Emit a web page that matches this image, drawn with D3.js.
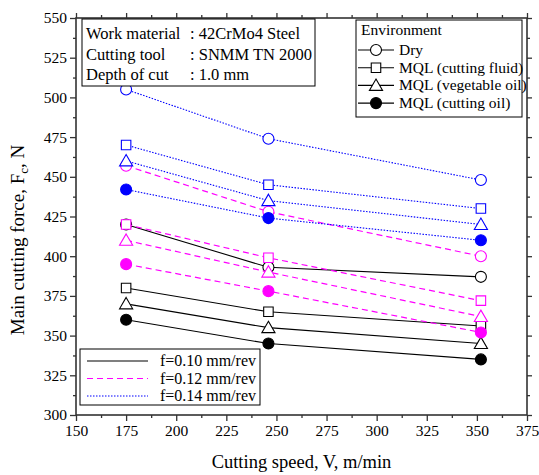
<!DOCTYPE html>
<html>
<head>
<meta charset="utf-8">
<script src="https://cdn.jsdelivr.net/npm/d3@7"></script>
<style>
  body { margin: 0; background: #fff; }
</style>
</head>
<body>
<div id="chart"></div>
<script>
// cutting speeds, m/min
const speeds = [175, 246, 352];

// environments (marker shapes)
const environments = ["Dry", "MQL (cutting fluid)", "MQL (vegetable oil)", "MQL (cutting oil)"];

// feed rates (line styles)
const feeds = ["f=0.10 mm/rev", "f=0.12 mm/rev", "f=0.14 mm/rev"];

// main cutting force, N  -- [environment][speed]
const force010 = [
    [420, 393, 387],
    [380, 365, 356],
    [370, 355, 345],
    [360, 345, 335]
];
const force012 = [
    [457, 428, 400],
    [420, 399, 372],
    [410, 390, 362],
    [395, 378, 352]
];
const force014 = [
    [505, 474, 448],
    [470, 445, 430],
    [460, 435, 420],
    [442, 424, 410]
];

const infoLabels = ["Work material", "Cutting tool", "Depth of cut"];
const infoValues = [": 42CrMo4 Steel", ": SNMM TN 2000", ": 1.0 mm"];

const xTicks = d3.range(150, 376, 25);
const yTicks = d3.range(300, 551, 25);

const width = 539, height = 475;
const mLeft = 76, mRight = 527, mTop = 18, mBottom = 415;
const serif = "'Liberation Serif', 'Times New Roman', Times, serif";

const svg = d3.select("#chart")
    .append("svg")
    .attr("width", width)
    .attr("height", height)
    .attr("font-family", serif);

const x = d3.scaleLinear().domain([150, 375]).range([mLeft, mRight]);
const y = d3.scaleLinear().domain([300, 550]).range([mBottom, mTop]);

// axes with minor ticks
const axisColor = "#333";
function styleAxis(g) {
    g.attr("font-family", serif).attr("font-size", 15.5);
    g.select(".domain").remove();
    g.selectAll("line").attr("stroke", axisColor).attr("stroke-width", 1.3);
    g.selectAll("text").attr("fill", "#000");
}
const xMinor = d3.range(162.5, 375, 25);
const yMinor = d3.range(312.5, 550, 25);

svg.append("g").attr("transform", `translate(0,${mBottom})`)
    .call(d3.axisBottom(x).tickValues(xTicks).tickSize(6).tickPadding(4))
    .call(styleAxis);
svg.append("g").attr("transform", `translate(0,${mBottom})`)
    .call(d3.axisBottom(x).tickValues(xMinor).tickSize(3).tickFormat(""))
    .call(styleAxis);
svg.append("g").attr("transform", `translate(0,${mTop})`)
    .call(d3.axisTop(x).tickValues(xTicks).tickSize(5).tickFormat(""))
    .call(styleAxis);
svg.append("g").attr("transform", `translate(0,${mTop})`)
    .call(d3.axisTop(x).tickValues(xMinor).tickSize(3).tickFormat(""))
    .call(styleAxis);

svg.append("g").attr("transform", `translate(${mLeft},0)`)
    .call(d3.axisLeft(y).tickValues(yTicks).tickSize(6).tickPadding(3))
    .call(styleAxis);
svg.append("g").attr("transform", `translate(${mLeft},0)`)
    .call(d3.axisLeft(y).tickValues(yMinor).tickSize(3).tickFormat(""))
    .call(styleAxis);
svg.append("g").attr("transform", `translate(${mRight},0)`)
    .call(d3.axisRight(y).tickValues(yTicks).tickSize(5).tickFormat(""))
    .call(styleAxis);
svg.append("g").attr("transform", `translate(${mRight},0)`)
    .call(d3.axisRight(y).tickValues(yMinor).tickSize(3).tickFormat(""))
    .call(styleAxis);

// frame
svg.append("rect")
    .attr("x", mLeft).attr("y", mTop)
    .attr("width", mRight - mLeft).attr("height", mBottom - mTop)
    .attr("fill", "none")
    .attr("stroke", axisColor)
    .attr("stroke-width", 1.6);

// axis titles
svg.append("text")
    .attr("x", (mLeft + mRight) / 2).attr("y", 468)
    .attr("text-anchor", "middle")
    .attr("font-size", 18.5)
    .text("Cutting speed, V, m/min");

const yTitle = svg.append("text")
    .attr("transform", `translate(24,240) rotate(-90)`)
    .attr("text-anchor", "middle")
    .attr("font-size", 19);
yTitle.append("tspan").text("Main cutting force, F");
yTitle.append("tspan").attr("font-size", 13).attr("dy", 4).text("c");
yTitle.append("tspan").attr("dy", -4).text(", N");

// series styles
const feedStyles = [
    {color: "#000000", dash: null, width: 1.1},
    {color: "#ff00ff", dash: "6,4", width: 1.2},
    {color: "#0000ff", dash: "1.5,1.5", width: 1.1}
];
const symbolTypes = [d3.symbolCircle, d3.symbolSquare, d3.symbolTriangle, d3.symbolCircle];
const symbolSizes = [95, 90, 75, 95];
const filled = [false, false, false, true];

function drawMarker(g, cx, cy, envIdx, color) {
    g.append("path")
        .attr("d", d3.symbol().type(symbolTypes[envIdx]).size(symbolSizes[envIdx])())
        .attr("transform", `translate(${cx},${cy + (envIdx === 2 ? 1.2 : 0)})`)
        .attr("fill", filled[envIdx] ? color : "#fff")
        .attr("stroke", color)
        .attr("stroke-width", 1.1);
}

const line = d3.line()
    .x((d, i) => x(speeds[i]))
    .y(d => y(d));

const allForces = [force010, force012, force014];
allForces.forEach((set, fi) => {
    const st = feedStyles[fi];
    const g = svg.append("g");
    set.forEach(values => {
        g.append("path")
            .attr("d", line(values))
            .attr("fill", "none")
            .attr("stroke", st.color)
            .attr("stroke-width", st.width)
            .attr("stroke-dasharray", st.dash);
    });
    set.forEach((values, ei) => {
        values.forEach((v, i) => drawMarker(g, x(speeds[i]), y(v), ei, st.color));
    });
});

// info box
const info = svg.append("g");
info.append("rect")
    .attr("x", 82).attr("y", 19).attr("width", 233).attr("height", 67)
    .attr("fill", "#fff").attr("stroke", "#000").attr("stroke-width", 1);
infoLabels.forEach((t, i) => {
    info.append("text").attr("x", 86).attr("y", 39 + i * 20.5)
        .attr("font-size", 16.5).text(t);
    info.append("text").attr("x", 190).attr("y", 39 + i * 20.5)
        .attr("font-size", 16.5).text(infoValues[i]);
});

// environment legend
const envLeg = svg.append("g");
envLeg.append("rect")
    .attr("x", 356).attr("y", 20).attr("width", 166).attr("height", 97)
    .attr("fill", "#fff").attr("stroke", "#000").attr("stroke-width", 1);
envLeg.append("text").attr("x", 361).attr("y", 35)
    .attr("font-size", 15.5).text("Environment");
environments.forEach((name, i) => {
    const cy = 50 + i * 17.7;
    envLeg.append("line")
        .attr("x1", 358).attr("x2", 394).attr("y1", cy).attr("y2", cy)
        .attr("stroke", "#000").attr("stroke-width", 1.1);
    drawMarker(envLeg, 376, cy, i, "#000");
    envLeg.append("text").attr("x", 399).attr("y", cy + 5)
        .attr("font-size", 15.5).text(name);
});

// feed legend
const feedLeg = svg.append("g");
feedLeg.append("rect")
    .attr("x", 80).attr("y", 349).attr("width", 180).attr("height", 56)
    .attr("fill", "#fff").attr("stroke", "#000").attr("stroke-width", 1);
feeds.forEach((name, i) => {
    const cy = 361 + i * 17.5;
    const st = feedStyles[i];
    feedLeg.append("line")
        .attr("x1", 87).attr("x2", 148).attr("y1", cy).attr("y2", cy)
        .attr("stroke", st.color).attr("stroke-width", st.width)
        .attr("stroke-dasharray", st.dash);
    feedLeg.append("text").attr("x", 256).attr("y", cy + 5)
        .attr("text-anchor", "end")
        .attr("font-size", 16).text(name);
});
</script>
</body>
</html>
